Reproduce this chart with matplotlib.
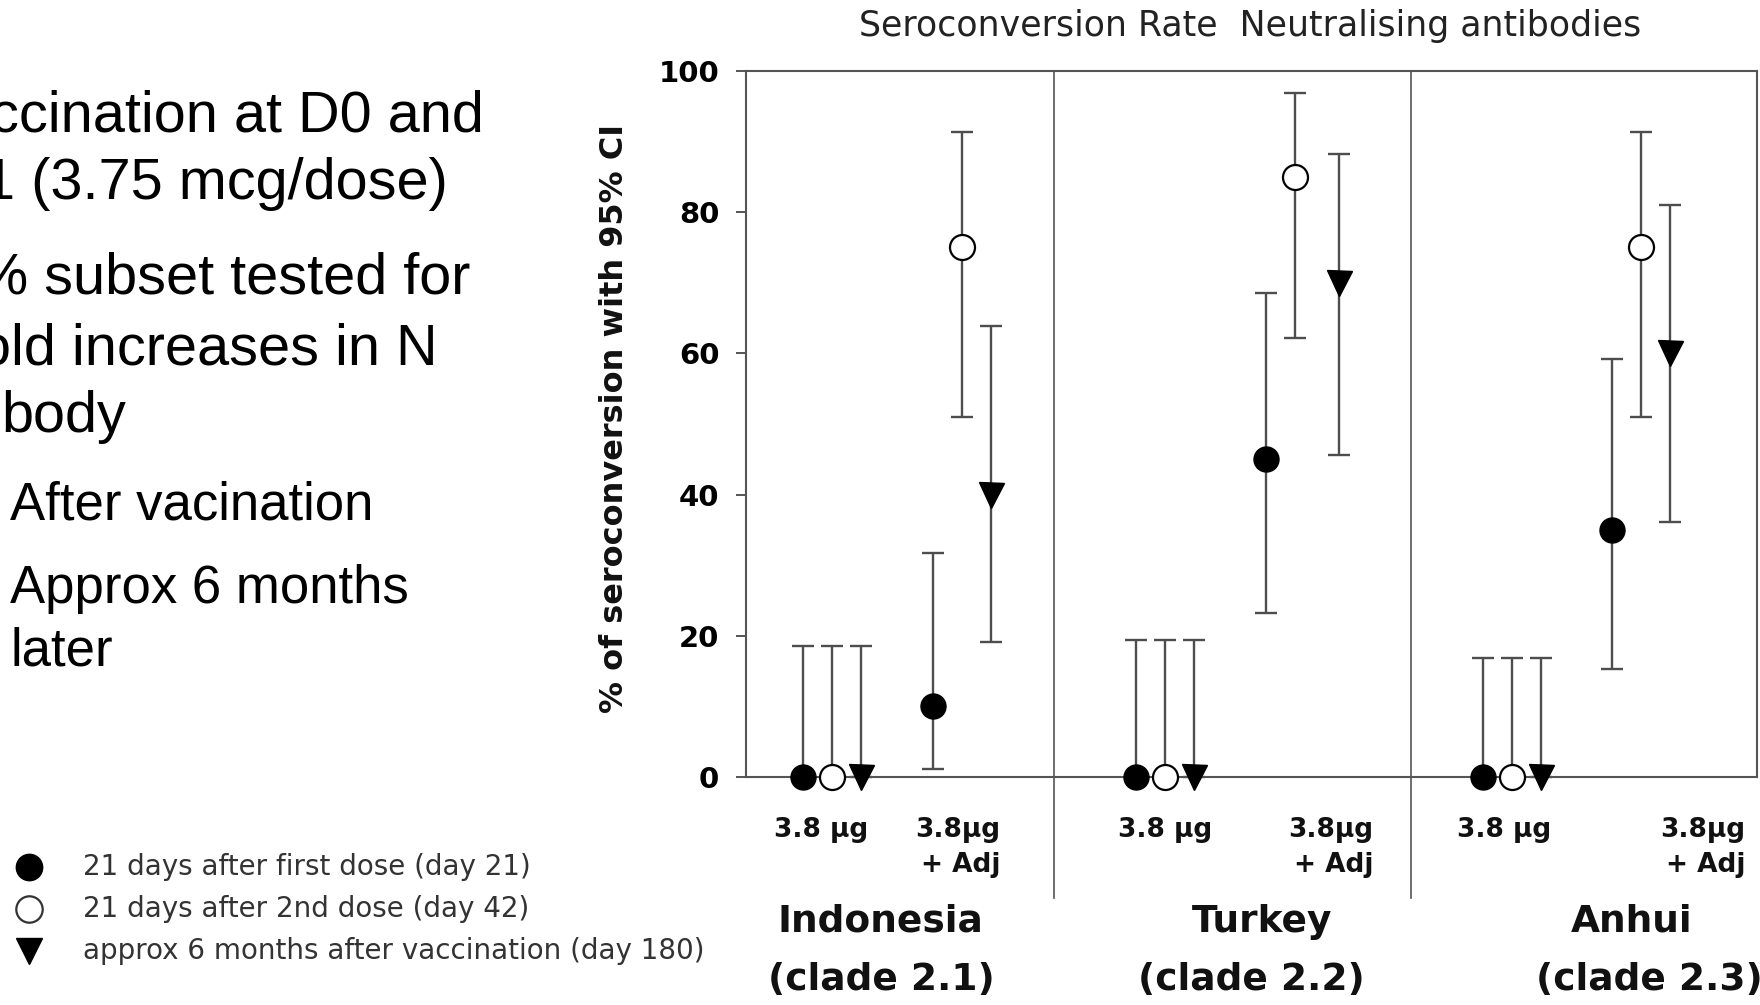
import matplotlib
matplotlib.use('Agg')
import numpy as np
from matplotlib import pyplot as plt
from matplotlib import transforms
from matplotlib.lines import Line2D


# x groups: Indonesia plain, Indonesia adj, Turkey plain, Turkey adj, Anhui plain, Anhui adj
strains = ['Indonesia', 'Turkey', 'Anhui']
clades = ['(clade 2.1)', '(clade 2.2)', '(clade 2.3)']
dose_plain = '3.8 µg'
dose_adj = ['3.8µg', '+ Adj']

# % seroconversion with 95% CI
day21 = [0, 10, 0, 45, 0, 35]
day21_lo = [0, 1.2, 0, 23.2, 0, 15.3]
day21_hi = [18.5, 31.7, 19.4, 68.6, 16.9, 59.2]

day42 = [0, 75, 0, 85, 0, 75]
day42_lo = [0, 51.0, 0, 62.2, 0, 51.0]
day42_hi = [18.5, 91.3, 19.4, 96.9, 16.9, 91.3]

day180 = [0, 40, 0, 70, 0, 60]
day180_lo = [0, 19.1, 0, 45.6, 0, 36.1]
day180_hi = [18.5, 63.9, 19.4, 88.2, 16.9, 81.0]

legend_labels = ['21 days after first dose (day 21)',
                 '21 days after 2nd dose (day 42)',
                 'approx 6 months after vaccination (day 180)']
yticks = [0, 20, 40, 60, 80, 100]
title = 'Seroconversion Rate  Neutralising antibodies'
ylabel = '% of seroconversion with 95% CI'

# slide text, the left part is cut off by the page edge in the original
slide_lines = ['ccination at D0 and', '1 (3.75 mcg/dose)', '% subset tested for',
               'old increases in N', 'body']
sub_lines = ['After vacination', 'Approx 6 months', 'later']

# layout (pixel based, figure is 1760 x 1005)
W, H = 1760, 1005
group_x = [2.955, 7.445, 14.45, 18.93, 26.41, 30.86]
off21 = [-1, -1, -1, -1, -1, -1]
off42 = [0, 0, 0, 0, 0, 0]
off180 = [1, 1, 1, 1.52, 1, 1]
dividers = [10.62, 22.93]


def fy(py):
    return 1 - py / H


fig = plt.figure(figsize=(W / 100, H / 100), dpi=100)
ax = fig.add_axes([746 / W, fy(777), (1757 - 746) / W, (777 - 71) / H])
ax.set_xlim(0, 34.86)
ax.set_ylim(0, 100)

for s in ax.spines.values():
    s.set_color('#555555')
    s.set_linewidth(1.5)
ax.set_xticks([])
ax.set_yticks(yticks)
ax.set_yticklabels([str(t) for t in yticks], fontsize=21, fontweight='bold')
ax.tick_params(axis='y', direction='out', length=7.2, width=1.4, color='#555555', pad=12)

# dividers between strains, running down into the label area
for d in dividers:
    ax.plot([d, d], [100, -17.1], color='#555555', lw=1.2, clip_on=False, zorder=1)

series = [
    (day21, day21_lo, day21_hi, off21, dict(marker='o', mfc='black', mec='black')),
    (day42, day42_lo, day42_hi, off42, dict(marker='o', mfc='white', mec='black', mew=1.6)),
    (day180, day180_lo, day180_hi, off180, dict(marker='v', mfc='black', mec='black')),
]
for vals, lo, hi, off, style in series:
    v = np.array(vals, dtype=float)
    x = np.array(group_x) + np.array(off)
    yerr = [v - np.array(lo), np.array(hi) - v]
    ax.errorbar(x, v, yerr=yerr, fmt='none', ecolor='#4d4d4d', elinewidth=1.7,
                capsize=8, capthick=1.7, clip_on=False, zorder=2)
    ax.plot(x, v, linestyle='none', markersize=18, clip_on=False, zorder=3, **style)

# category labels under the axis
trans = transforms.blended_transform_factory(ax.transData, fig.transFigure)
plain_x = [2.59, 14.45, 26.14]
adj_right = [8.76, 21.62, 34.45]
strain_x = [4.62, 17.78, 30.55]
clade_x = [4.66, 17.43, 31.15]
for i in range(3):
    ax.text(plain_x[i], fy(837), dose_plain, transform=trans, ha='center', va='baseline',
            fontsize=19, fontweight='bold', color='#111111')
    ax.text(adj_right[i], fy(837), dose_adj[0], transform=trans, ha='right', va='baseline',
            fontsize=19, fontweight='bold', color='#111111')
    ax.text(adj_right[i], fy(872), dose_adj[1], transform=trans, ha='right', va='baseline',
            fontsize=19, fontweight='bold', color='#111111')
    ax.text(strain_x[i], fy(932), strains[i], transform=trans, ha='center', va='baseline',
            fontsize=27, fontweight='bold', color='#111111')
    ax.text(clade_x[i], fy(990), clades[i], transform=trans, ha='center', va='baseline',
            fontsize=27, fontweight='bold', color='#111111')

fig.text(1250 / W, fy(26), title, ha='center', va='center', fontsize=25, color='#222222')
fig.text(614 / W, fy(418), ylabel, ha='center', va='center', rotation=90,
         fontsize=23, fontweight='bold', color='#111111')

# legend drawn by hand in the lower left corner
leg_y = [867, 909, 951]
leg_style = [dict(marker='o', mfc='black', mec='black'),
             dict(marker='o', mfc='white', mec='#333333', mew=1.6),
             dict(marker='v', mfc='black', mec='black')]
for i in range(3):
    fig.add_artist(Line2D([29 / W], [fy(leg_y[i])], transform=fig.transFigure,
                          linestyle='none', markersize=19, **leg_style[i]))
    fig.text(83 / W, fy(leg_y[i]), legend_labels[i], ha='left', va='center',
             fontsize=20, color='#333333')

# slide bullet text (cut off at the left edge)
slide_font = ['Liberation Sans', 'DejaVu Sans']
slide_x = [-10, -17, -23, -21, 1.5]
slide_base = [132, 199, 293, 364, 432]
for t, x, b in zip(slide_lines, slide_x, slide_base):
    fig.text(x / W, fy(b), t, ha='left', va='baseline', fontsize=41.5,
             family=slide_font, color='black')
sub_base = [520, 603, 665]
for t, b in zip(sub_lines, sub_base):
    fig.text(10 / W, fy(b), t, ha='left', va='baseline', fontsize=38,
             family=slide_font, color='black')

fig.savefig('out.png', dpi=100)
